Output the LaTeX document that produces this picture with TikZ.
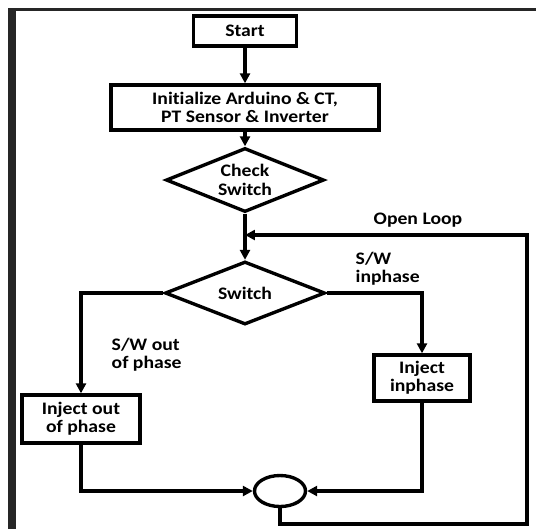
\documentclass[tikz,border=0pt]{standalone}
\usepackage{fontspec}
\setmainfont{Carlito}[Ligatures=CommonOff, FakeStretch=1.12]
\usetikzlibrary{shapes.geometric, arrows.meta}

\begin{document}
\begin{tikzpicture}[
    x=0.025cm, y=-0.025cm,
    >={Triangle[length=7pt,width=7pt]},
    line width=2.4pt,
    every node/.style={font=\bfseries\fontsize{12.5}{13}\selectfont},
    process/.style={
        rectangle,
        draw,
        align=center,
        inner sep=1pt
    },
    decision/.style={
        diamond,
        draw,
        aspect=2.5,
        align=center,
        inner sep=0pt
    },
    junction/.style={
        ellipse,
        draw,
        minimum width=1.275cm,
        minimum height=0.775cm
    },
    flowlabel/.style={
        align=left,
        anchor=west,
        inner sep=0pt
    }
]
    \useasboundingbox (0,0) rectangle (536,529);

    % Scanned frame
    \fill[black!85] (8,8) rectangle (16,529);
    \fill[black!85] (8,8) rectangle (536,11);

    % Blocks
    \node[process, minimum width=2.575cm, minimum height=0.75cm] (Start) at (245,31) {Start};
    \node[process, minimum width=6.7cm, minimum height=1.125cm] (Init) at (245,107.5)
        {Initialize Arduino \& CT,\\PT Sensor \& Inverter};
    \node[decision, minimum width=3.95cm, minimum height=1.6cm] (Check) at (245,180)
        {Check\\Switch};
    \node[decision, minimum width=4cm, minimum height=1.575cm] (Sw) at (245,293) {Switch};
    \node[process, minimum width=2.95cm, minimum height=1.2cm] (OutPh) at (81,419)
        {Inject out\\of phase};
    \node[process, minimum width=2.4cm, minimum height=1.15cm] (InPh) at (422,378)
        {Inject\\inphase};
    \node[junction] (Sum) at (280,491) {};

    \coordinate (LoopBR) at (527,524);
    \coordinate (Join) at (245,235);

    % Connections
    \draw[->] (Start) -- (Init);
    \draw[->] (Init) -- (Check);
    \draw[->] (Check) -- (Sw);
    \draw[->] (Sw.west) -| (OutPh.north);
    \draw[->] (Sw.east) -| (InPh.north);
    \draw[->] (OutPh.south) |- (Sum.west);
    \draw[->] (InPh.south) |- (Sum.east);
    \draw[->] (Sum.south) |- (LoopBR) |- (Join);

    % Labels
    \node[flowlabel] (LblOpen) at (372,220) {Open Loop};
    \node[flowlabel] (LblIn) at (354,269) {S/W\\inphase};
    \node[flowlabel] (LblOut) at (110,355) {S/W out\\of phase};

\end{tikzpicture}
\end{document}
